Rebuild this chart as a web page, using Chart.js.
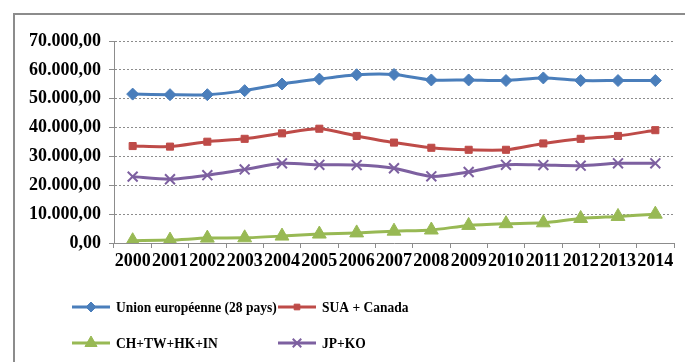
<!DOCTYPE html>
<html>
<head>
<meta charset="utf-8">
<script src="https://cdn.jsdelivr.net/npm/chart.js@4/dist/chart.umd.min.js"></script>
<style>
  html, body { margin: 0; padding: 0; background: #fff; }
  #wrap { position: relative; width: 685px; height: 362px; overflow: hidden; }
  #frame {
    position: absolute; left: 13px; top: 13px; right: -10px; bottom: -10px;
    border-top: 2px solid #8c8c8c; border-left: 2px solid #8c8c8c;
  }
  canvas { position: absolute; left: 0; top: 0; }
</style>
</head>
<body>
<div id="wrap">
  <div id="frame"></div>
  <canvas id="chart" width="685" height="362"></canvas>
</div>
<script>
// years on the x axis
const years = ['2000', '2001', '2002', '2003', '2004', '2005', '2006', '2007',
  '2008', '2009', '2010', '2011', '2012', '2013', '2014'];

// series values
const ueValues = [51600, 51400, 51400, 52800, 55100, 56800, 58300, 58400,
  56500, 56500, 56300, 57200, 56300, 56300, 56300];
const suaValues = [33600, 33400, 35100, 36100, 38000, 39600, 37100, 34800,
  33000, 32300, 32300, 34500, 36100, 37100, 39100];
const asiaValues = [800, 1000, 1700, 1800, 2400, 3100, 3500, 4100,
  4500, 6100, 6700, 7000, 8500, 9200, 10000];
const jpkoValues = [23000, 22100, 23500, 25500, 27600, 27100, 27000, 25900,
  23100, 24600, 27100, 27000, 26800, 27600, 27600];

const seriesNames = ['Union européenne (28 pays)', 'SUA + Canada', 'CH+TW+HK+IN', 'JP+KO'];

// y tick labels
const yTicks = [0, 10000, 20000, 30000, 40000, 50000, 60000, 70000];

const FONT = 'Liberation Serif';
const GRAY = '#8c8c8c';

function fmt(v) {
  const s = Math.round(v).toString().replace(/\B(?=(\d{3})+(?!\d))/g, '.');
  return s + ',00';
}

/**
 * Draws the 2x2 legend below the plot.
 */
const legendGrid = {
  id: 'legendGrid',
  afterDraw(chart) {
    const ctx = chart.ctx;
    const cols = [72, 278];
    const rows = [307, 343];
    chart.data.datasets.forEach((ds, i) => {
      const x = cols[i % 2];
      const y = rows[Math.floor(i / 2)];
      ctx.save();
      ctx.strokeStyle = ds.borderColor;
      ctx.lineWidth = 3;
      ctx.beginPath();
      ctx.moveTo(x, y);
      ctx.lineTo(x + 38, y);
      ctx.stroke();
      ctx.fillStyle = ds.pointBackgroundColor;
      ctx.strokeStyle = ds.pointBorderColor;
      ctx.lineWidth = ds.pointBorderWidth;
      Chart.helpers.drawPoint(ctx, {
        pointStyle: ds.pointStyle,
        radius: ds.pointRadius - 1,
        borderWidth: ds.pointBorderWidth,
        rotation: 0
      }, x + 19, y);
      // the original text is a bit condensed
      ctx.fillStyle = '#000';
      ctx.font = 'bold 15px "' + FONT + '"';
      ctx.textBaseline = 'middle';
      ctx.translate(x + 44, y + 1);
      ctx.scale(0.9, 1);
      ctx.fillText(ds.label, 0, 0);
      ctx.restore();
    });
  }
};

function makeSeries(label, data, color, style, radius) {
  return {
    label: label,
    data: data,
    borderColor: color,
    backgroundColor: color,
    borderWidth: 3,
    pointStyle: style,
    pointRadius: radius,
    pointHoverRadius: radius,
    pointBackgroundColor: color,
    pointBorderColor: color,
    pointBorderWidth: style === 'crossRot' ? 2 : 1,
    tension: 0.25,
    fill: false
  };
}

new Chart(document.getElementById('chart'), {
  type: 'line',
  data: {
    labels: years,
    datasets: [
      makeSeries(seriesNames[0], ueValues, '#4a7ebb', 'rectRot', 6),
      makeSeries(seriesNames[1], suaValues, '#be4b48', 'rect', 5),
      makeSeries(seriesNames[2], asiaValues, '#98b954', 'triangle', 8),
      makeSeries(seriesNames[3], jpkoValues, '#7d60a0', 'crossRot', 7)
    ]
  },
  options: {
    responsive: false,
    animation: false,
    layout: { padding: { left: 0, right: 11, top: 41, bottom: 90 } },
    plugins: {
      legend: { display: false },
      tooltip: { enabled: false }
    },
    scales: {
      x: {
        offset: true,
        afterFit: (s) => { s.height = 29; },
        grid: {
          offset: true,
          drawOnChartArea: false,
          tickLength: 5,
          tickColor: GRAY
        },
        border: { color: GRAY, width: 1 },
        ticks: {
          autoSkip: false,
          maxRotation: 0,
          minRotation: 0,
          padding: 3,
          color: '#000',
          font: { family: FONT, size: 18, weight: 'bold' }
        }
      },
      y: {
        min: 0,
        max: 70000,
        afterFit: (s) => { s.width = 114; },
        afterBuildTicks: (s) => { s.ticks = yTicks.map(v => ({ value: v })); },
        grid: {
          color: GRAY,
          lineWidth: 1,
          tickLength: 5,
          tickColor: GRAY,
          tickBorderDash: []
        },
        border: { color: GRAY, width: 1, dash: [2, 2] },
        ticks: {
          padding: 8,
          color: '#000',
          font: { family: FONT, size: 18, weight: 'bold' },
          callback: (v) => fmt(v)
        }
      }
    }
  },
  plugins: [legendGrid]
});
</script>
</body>
</html>
